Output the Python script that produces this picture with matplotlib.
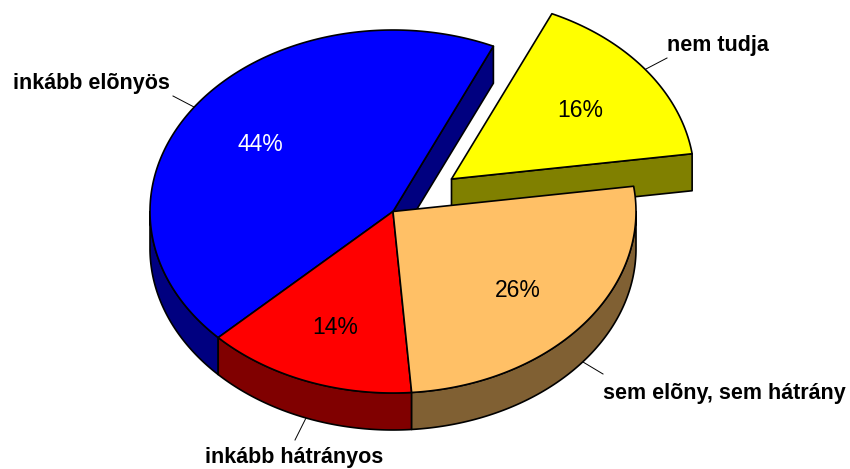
import numpy as np
import matplotlib
matplotlib.use("Agg")
import matplotlib.pyplot as plt
from matplotlib.patches import Polygon

categories = ["inkább elõnyös", "nem tudja", "sem elõny, sem hátrány", "inkább hátrányos"]
values = [44, 16, 26, 14]
value_labels = ["44%", "16%", "26%", "14%"]
top_colors = ["#0000FF", "#FFFF00", "#FFC066", "#FF0000"]
side_colors = ["#000080", "#808000", "#806033", "#800000"]

START = -134.0           # clockwise from top, degrees
CX, CY = 393.0, 211.5
RX, RY = 243.0, 181.5
DEPTH = 37.0
EXPLODE = {1: (58.5, -32.5)}

LABEL_POS = [(13, 89), (667, 51.5), (603, 399.5), (205, 463)]
PCT_POS = [(260, 142), (580, 108), (518, 288), (335, 325.5)]
PCT_COL = ["white", "black", "black", "black"]
LEADERS = [((173, 96), (194, 107)), ((667, 58), (646, 69)), ((603, 374), (583, 362)), ((295, 440), (306, 418))]

fig = plt.figure(figsize=(8.5, 4.69), dpi=100)
ax = fig.add_axes([0, 0, 1, 1])
ax.set_xlim(0, 850)
ax.set_ylim(469, 0)
ax.axis("off")

edges = START + np.cumsum([0] + values) * 3.6


def rim(a0, a1, cx, cy, dy=0.0):
    t = np.radians(np.linspace(a0, a1, max(int(abs(a1 - a0) * 2), 2)))
    return np.column_stack([cx + RX * np.sin(t), cy - RY * np.cos(t) + dy])


def poly(pts, fc, z):
    ax.add_patch(Polygon(pts, closed=True, fc=fc, ec="black", lw=1.2, joinstyle="round", zorder=z))


# back-to-front order: exploded slice, blue cut face, rims, tops
order = [1, 0, 3, 2]
z = 1
for i in order:
    a0, a1 = edges[i], edges[i + 1]
    ox, oy = EXPLODE.get(i, (0, 0))
    cx, cy = CX + ox, CY + oy
    end = rim(a1, a1, cx, cy)[0]
    # cut face at the clockwise end of the slice
    if i in (0, 1):
        poly([(cx, cy), end, end + [0, DEPTH], (cx, cy + DEPTH)], side_colors[i], z)
        z += 1
    # outer wall (only the part facing the viewer)
    lo, hi = a0, a1
    if i == 0:          # blue: left front wall, 226..270 deg
        lo, hi = a0, -90
    if i == 2:
        lo = 90
    if hi > lo and i != 1:
        r = rim(lo, hi, cx, cy)
        poly(np.vstack([r, (r + [0, DEPTH])[::-1]]), side_colors[i], z)
        z += 1
    poly(np.vstack([[(cx, cy)], rim(a0, a1, cx, cy)]), top_colors[i], z + 10)
    z += 1

for name, (x, y) in zip(categories, LABEL_POS):
    ax.text(x, y, name, family="Liberation Sans", weight="bold", fontsize=15.5, ha="left", va="baseline", zorder=40)
for lab, (x, y), c in zip(value_labels, PCT_POS, PCT_COL):
    ax.text(x, y, lab, family="Liberation Sans", fontsize=16.5, color=c, ha="center", va="center_baseline", zorder=40)
for (p, q) in LEADERS:
    ax.plot([p[0], q[0]], [p[1], q[1]], color="black", lw=0.7, zorder=5)

fig.savefig("out.png", dpi=100)
